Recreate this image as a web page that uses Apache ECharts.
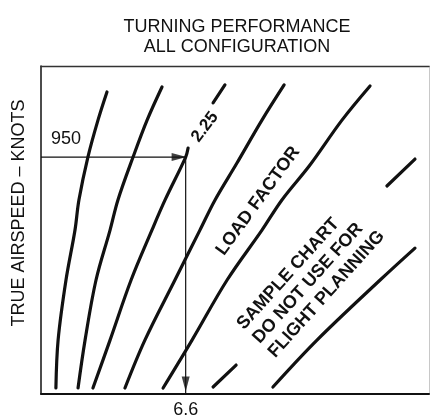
<!DOCTYPE html>
<html>
<head>
<meta charset="utf-8">
<script src="https://cdn.jsdelivr.net/npm/echarts@6/dist/echarts.min.js"></script>
<style>
  html, body { margin: 0; padding: 0; background: #ffffff; }
  #chart { width: 430px; height: 419px; }
</style>
</head>
<body>
<div id="chart"></div>
<script>
// ---- data (x: horizontal scale units, y: true airspeed, knots) ----
const titleLines = ['TURNING PERFORMANCE', 'ALL CONFIGURATION'];
const yAxisTitle = 'TRUE AIRSPEED \u2013 KNOTS';
const xTickValues = [6.6];
const loadFactorCurve1 = [[3.01,1211],[2.60,1098],[2.14,950],[1.73,778],[1.55,657],[1.14,457],[0.78,216],[0.68,24]];
const loadFactorCurve2 = [[5.52,1231],[4.84,1098],[4.20,950],[3.51,778],[3.15,657],[2.51,457],[2.01,216],[1.69,24]];
const loadFactorCurve225Upper = [[8.39,1239],[7.85,1167]];
const loadFactorCurve225Lower = [[6.71,986],[6.6,950],[5.66,778],[5.06,657],[4.11,457],[3.15,216],[2.37,24]];
const loadFactorCurve4 = [[11.09,1239],[10.08,1098],[8.94,926],[7.94,778],[7.25,657],[6.11,457],[4.74,216],[3.83,24]];
const loadFactorCurve5 = [[15.01,1235],[13.73,1098],[12.27,918],[10.99,778],[10.08,657],[8.49,457],[6.89,216],[5.57,24]];
const loadFactorCurve6Lower = [[7.85,28],[8.90,116]];
const loadFactorCurve6Upper = [[15.78,834],[17.06,942]];
const loadFactorCurve7 = [[10.58,28],[12.59,216],[15.47,457],[17.06,585]];
const guidePath = [[0,950],[6.6,950],[6.6,0]];
const guideArrows = [[6.3,950,-90],[6.6,40,180]];
const curveLabel = '2.25';
const guideAirspeedLabel = '950';

const FONT = '"Liberation Sans", Arial, Helvetica, sans-serif';
const INK = '#111';

function curve(name, data) {
  return {
    type: 'line', name: name, data: data, smooth: 0.35,
    symbol: 'none', silent: true,
    lineStyle: { color: INK, width: 3.2, cap: 'round', join: 'round' },
    z: 3
  };
}

const chart = echarts.init(document.getElementById('chart'), null, { renderer: 'canvas' });
const option = {
  backgroundColor: '#ffffff',
  animation: false,
  title: {
    text: titleLines.join('\n'),
    left: 232, top: 12, textAlign: 'center',
    textStyle: { fontFamily: FONT, fontSize: 18, fontWeight: 'normal', color: INK, lineHeight: 20 }
  },
  grid: { left: 41, right: 1, top: 66, bottom: 25 },
  xAxis: [
    {
      type: 'value', min: 0, max: 17.7, position: 'bottom',
      axisLine: { onZero: false, lineStyle: { color: INK, width: 2 } },
      axisTick: { show: false },
      splitLine: { show: false },
      axisLabel: {
        customValues: xTickValues, margin: 7,
        fontFamily: FONT, fontSize: 18, color: INK,
        formatter: function (v) { return String(v); }
      }
    },
    {
      type: 'value', min: 0, max: 17.7, position: 'top',
      axisLine: { onZero: false, lineStyle: { color: '#333', width: 1.4 } },
      axisTick: { show: false }, axisLabel: { show: false }, splitLine: { show: false }
    }
  ],
  yAxis: [
    {
      type: 'value', min: 0, max: 1315, position: 'left',
      axisLine: { show: true, onZero: false, lineStyle: { color: INK, width: 1.5 } },
      axisTick: { show: false }, axisLabel: { show: false }, splitLine: { show: false }
    },
    {
      type: 'value', min: 0, max: 1315, position: 'right',
      axisLine: { show: true, onZero: false, lineStyle: { color: '#c8c8c8', width: 1 } },
      axisTick: { show: false }, axisLabel: { show: false }, splitLine: { show: false }
    }
  ],
  series: [
    curve('n1', loadFactorCurve1),
    curve('n2', loadFactorCurve2),
    curve('n2.25a', loadFactorCurve225Upper),
    curve('n2.25b', loadFactorCurve225Lower),
    curve('n4', loadFactorCurve4),
    curve('n5', loadFactorCurve5),
    curve('n6a', loadFactorCurve6Lower),
    curve('n6b', loadFactorCurve6Upper),
    curve('n7', loadFactorCurve7),
    {
      type: 'line', name: 'guide', data: guidePath, symbol: 'none', silent: true,
      lineStyle: { color: INK, width: 1.2 }, z: 4
    },
    {
      type: 'scatter', name: 'arrows', silent: true, z: 5,
      data: guideArrows.map(function (a) {
        return { value: [a[0], a[1]], symbolRotate: a[2] };
      }),
      symbol: 'triangle', symbolSize: [8, 15],
      itemStyle: { color: INK }
    }
  ],
  graphic: [
    {
      type: 'text', x: 19, y: 213, rotation: Math.PI / 2,
      style: { text: yAxisTitle, x: 0, y: 0, align: 'center', verticalAlign: 'middle',
               font: 'normal 18px ' + FONT, fill: INK }
    },
    {
      type: 'text', x: 66, y: 139,
      style: { text: guideAirspeedLabel, x: 0, y: 0, align: 'center', verticalAlign: 'middle',
               font: 'normal 18px ' + FONT, fill: INK }
    },
    {
      type: 'text', x: 205, y: 127, rotation: 53 * Math.PI / 180,
      style: { text: curveLabel, x: 0, y: 0, align: 'center', verticalAlign: 'middle',
               font: 'bold 17px ' + FONT, fill: INK }
    },
    {
      type: 'text', x: 258, y: 201, rotation: 54 * Math.PI / 180,
      style: { text: 'LOAD FACTOR', x: 0, y: 0, align: 'center', verticalAlign: 'middle',
               font: 'bold 18px ' + FONT, fill: INK }
    },
    {
      type: 'text', x: 256, y: 341, rotation: 48 * Math.PI / 180,
      style: { text: 'SAMPLE CHART\nDO NOT USE FOR\nFLIGHT PLANNING', x: 0, y: 0,
               align: 'left', verticalAlign: 'middle', lineHeight: 21,
               font: 'bold 18px ' + FONT, fill: INK }
    }
  ]
};
chart.setOption(option);
</script>
</body>
</html>
